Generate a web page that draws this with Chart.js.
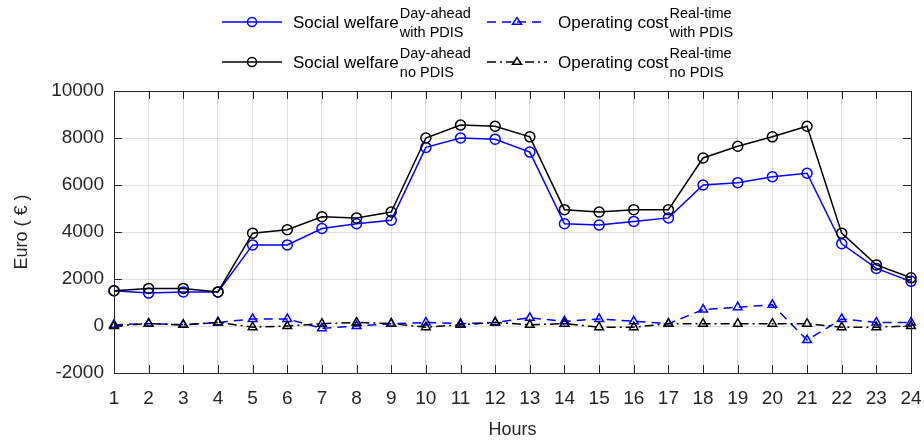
<!DOCTYPE html>
<html>
<head>
<meta charset="utf-8">
<script src="https://cdn.jsdelivr.net/npm/chart.js@4.4.1/dist/chart.umd.min.js"></script>
<style>
  html, body { margin: 0; padding: 0; background: #fff; }
  #wrap { width: 924px; height: 443px; position: relative; }
</style>
</head>
<body>
<div id="wrap"><canvas id="chart"></canvas></div>
<script>
// data
const hours = ['1', '2', '3', '4', '5', '6', '7', '8', '9', '10', '11', '12',
  '13', '14', '15', '16', '17', '18', '19', '20', '21', '22', '23', '24'];

const welfareWithPdis = [1500, 1400, 1450, 1450, 3450, 3450, 4150, 4350, 4500, 7600, 8000, 7950,
  7400, 4350, 4300, 4450, 4600, 6000, 6100, 6350, 6500, 3500, 2450, 1900];
const welfareNoPdis = [1500, 1600, 1600, 1450, 3950, 4100, 4650, 4600, 4850, 8000, 8550, 8500,
  8050, 4950, 4850, 4950, 4950, 7150, 7650, 8050, 8500, 3950, 2600, 2050];
const costWithPdis = [50, 100, 50, 150, 300, 300, -100, 0, 100, 150, 100, 150,
  350, 200, 300, 200, 100, 700, 800, 900, -600, 300, 150, 150];
const costNoPdis = [0, 100, 50, 150, -50, 0, 100, 150, 100, -50, 50, 150,
  50, 100, -50, -50, 100, 100, 100, 100, 100, -50, -50, 0];

const yTicks = [-2000, 0, 2000, 4000, 6000, 8000, 10000];

const axisColor = '#262626';
const FONT = '"Liberation Sans", Arial, sans-serif';

// legend entries: main text + superscript + subscript
const legendItems = [
  { x: 222, y: 22, color: '#0000ff', dash: [], marker: 'circle', main: 'Social welfare', sup: 'Day-ahead', sub: 'with PDIS' },
  { x: 487, y: 22, color: '#0000ff', dash: [9, 6], marker: 'triangle', main: 'Operating cost', sup: 'Real-time', sub: 'with PDIS' },
  { x: 222, y: 62, color: '#000000', dash: [], marker: 'circle', main: 'Social welfare', sup: 'Day-ahead', sub: 'no PDIS' },
  { x: 487, y: 62, color: '#000000', dash: [9, 4, 2, 4], marker: 'triangle', main: 'Operating cost', sup: 'Real-time', sub: 'no PDIS' },
];

function drawMarker(ctx, type, x, y, r) {
  ctx.beginPath();
  if (type === 'circle') {
    ctx.arc(x, y, r, 0, Math.PI * 2);
  } else {
    const h = r * 1.5;
    ctx.moveTo(x, y - h * 0.66);
    ctx.lineTo(x + r, y + h * 0.34);
    ctx.lineTo(x - r, y + h * 0.34);
    ctx.closePath();
  }
  ctx.stroke();
}

const legendPlugin = {
  id: 'matlabLegend',
  afterDraw(chart) {
    const ctx = chart.ctx;
    ctx.save();
    legendItems.forEach(it => {
      ctx.strokeStyle = it.color;
      ctx.lineWidth = 1.5;
      ctx.setLineDash(it.dash);
      ctx.beginPath();
      ctx.moveTo(it.x, it.y);
      ctx.lineTo(it.x + 60, it.y);
      ctx.stroke();
      ctx.setLineDash([]);
      drawMarker(ctx, it.marker, it.x + 30, it.y, 4.5);

      ctx.fillStyle = '#000';
      ctx.textBaseline = 'middle';
      ctx.textAlign = 'left';
      ctx.font = '17px ' + FONT;
      const tx = it.x + 71;
      ctx.fillText(it.main, tx, it.y + 1);
      const w = ctx.measureText(it.main).width;
      ctx.font = '14.5px ' + FONT;
      ctx.fillText(it.sup, tx + w + 1, it.y - 8);
      ctx.fillText(it.sub, tx + w + 1, it.y + 11);
    });
    ctx.restore();
  }
};

// box around the axes with inward ticks
const boxPlugin = {
  id: 'axesBox',
  afterDatasetsDraw(chart) {
    const { ctx, chartArea: a, scales } = chart;
    ctx.save();
    ctx.strokeStyle = axisColor;
    ctx.lineWidth = 1;
    ctx.strokeRect(a.left + 0.5, a.top + 0.5, a.right - a.left, a.bottom - a.top);
    const len = 8;
    ctx.beginPath();
    hours.forEach((h, i) => {
      const x = Math.round(scales.x.getPixelForValue(i)) + 0.5;
      ctx.moveTo(x, a.bottom); ctx.lineTo(x, a.bottom - len);
      ctx.moveTo(x, a.top); ctx.lineTo(x, a.top + len);
    });
    yTicks.forEach(v => {
      const y = Math.round(scales.y.getPixelForValue(v)) + 0.5;
      ctx.moveTo(a.left, y); ctx.lineTo(a.left + len, y);
      ctx.moveTo(a.right, y); ctx.lineTo(a.right - len, y);
    });
    ctx.stroke();
    ctx.restore();
  }
};

const ctx = document.getElementById('chart').getContext('2d');

new Chart(ctx, {
  type: 'line',
  data: {
    labels: hours,
    datasets: [
      {
        label: 'Social welfare no PDIS',
        data: welfareNoPdis,
        borderColor: '#000000',
        borderWidth: 1.5,
        pointStyle: 'circle',
        pointRadius: 5,
        pointBorderWidth: 1.5,
        pointBackgroundColor: 'rgba(0,0,0,0)',
        tension: 0,
        order: 1,
      },
      {
        label: 'Operating cost no PDIS',
        data: costNoPdis,
        borderColor: '#000000',
        borderWidth: 1.5,
        borderDash: [9, 4, 2, 4],
        pointStyle: 'triangle',
        pointRadius: 5,
        pointBorderWidth: 1.5,
        pointBackgroundColor: 'rgba(0,0,0,0)',
        tension: 0,
        order: 2,
      },
      {
        label: 'Social welfare with PDIS',
        data: welfareWithPdis,
        borderColor: '#0000ff',
        borderWidth: 1.5,
        pointStyle: 'circle',
        pointRadius: 5,
        pointBorderWidth: 1.5,
        pointBackgroundColor: 'rgba(0,0,0,0)',
        tension: 0,
        order: 3,
      },
      {
        label: 'Operating cost with PDIS',
        data: costWithPdis,
        borderColor: '#0000ff',
        borderWidth: 1.5,
        borderDash: [9, 6],
        pointStyle: 'triangle',
        pointRadius: 5,
        pointBorderWidth: 1.5,
        pointBackgroundColor: 'rgba(0,0,0,0)',
        tension: 0,
        order: 4,
      },
    ],
  },
  options: {
    responsive: true,
    maintainAspectRatio: false,
    animation: false,
    layout: { padding: { left: 0, right: 13, top: 91, bottom: 0 } },
    plugins: {
      legend: { display: false },
      tooltip: { enabled: false },
    },
    scales: {
      x: {
        offset: false,
        grid: { color: 'rgba(38,38,38,0.15)', drawTicks: false },
        border: { display: false },
        ticks: { color: axisColor, font: { family: FONT, size: 19 }, padding: 14, maxRotation: 0, autoSkip: false },
        title: { display: true, text: 'Hours', color: axisColor, font: { family: FONT, size: 18 }, padding: { top: 0, bottom: 2 } },
        afterFit: (s) => { s.height = 70; s.paddingLeft = 0; s.paddingRight = 0; },
      },
      y: {
        min: -2000,
        max: 10000,
        afterBuildTicks: (s) => { s.ticks = yTicks.map(v => ({ value: v })); },
        grid: { color: 'rgba(38,38,38,0.15)', drawTicks: false },
        border: { display: false },
        ticks: { color: axisColor, font: { family: FONT, size: 19 }, padding: 10, callback: (v) => String(v) },
        title: { display: true, text: 'Euro ( € )', color: axisColor, font: { family: FONT, size: 18 }, padding: { top: 11, bottom: 0 } },
        afterFit: (s) => { s.width = 114; s.paddingTop = 0; s.paddingBottom = 0; },
      },
    },
  },
  plugins: [legendPlugin, boxPlugin],
});
</script>
</body>
</html>
